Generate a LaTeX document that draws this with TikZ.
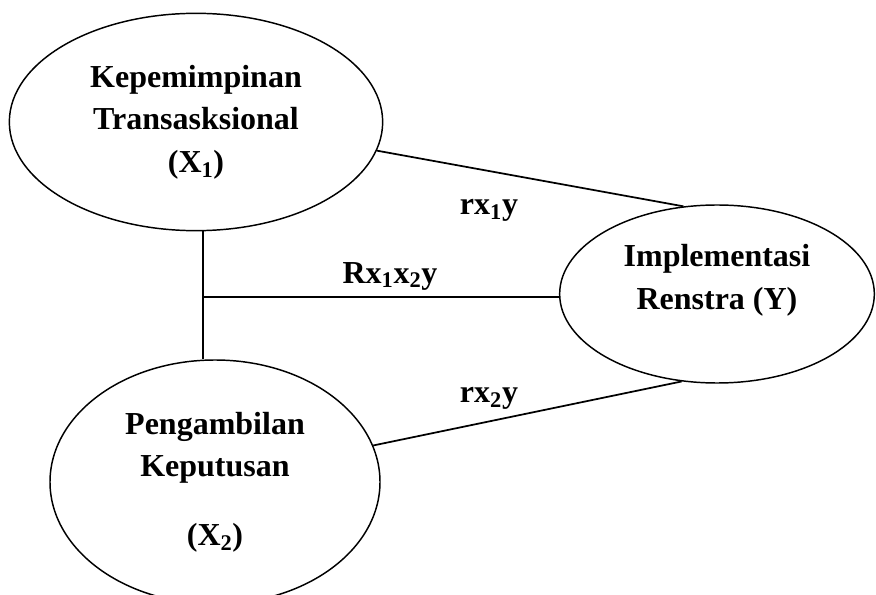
\documentclass[tikz,border=0pt]{standalone}
\usepackage{fontspec}
\setmainfont{Liberation Serif}
\usetikzlibrary{calc, positioning, shapes}

\begin{document}
\begin{tikzpicture}[x=0.75pt, y=-0.75pt,
        oval/.style={draw, ellipse, line width=1.1pt, inner sep=0pt, align=center, font=\bfseries\fontsize{24}{32}\selectfont},
        lbl/.style={font=\bfseries\fontsize{24}{32}\selectfont, inner sep=0pt, align=center},
        link/.style={line width=1.3pt}]
        \useasboundingbox (0,0) rectangle (876,595);

        \node[oval, minimum width=280pt, minimum height=163pt] (X1) at (196,122) {Kepemimpinan\\Transasksional\\(X\textsubscript{1})};
        \node[oval, minimum width=247.5pt, minimum height=183pt] (X2) at (215,482) {Pengambilan\\Keputusan\\[19.5pt](X\textsubscript{2})};
        \node[oval, minimum width=236pt, minimum height=133.5pt] (Y) at (717,294) {};
        \node[lbl] (Ytext) at ([yshift=10.5pt]Y.center) {Implementasi\\Renstra (Y)};

        \coordinate (J) at (203,297);

        \draw[link] (X1.-9) edge (Y.111);
        \draw[link] (X2.13) edge (Y.248);
        \draw[link] (X1.south -| J) edge (X2.north -| J);
        \draw[link] (J) edge (J -| Y.west);

        \node[lbl] (r1) at (489,210) {rx\textsubscript{1}y};
        \node[lbl] (r12) at (390,276) {Rx\textsubscript{1}x\textsubscript{2}y};
        \node[lbl] (r2) at (489,398) {rx\textsubscript{2}y};

    \end{tikzpicture}
\end{document}
